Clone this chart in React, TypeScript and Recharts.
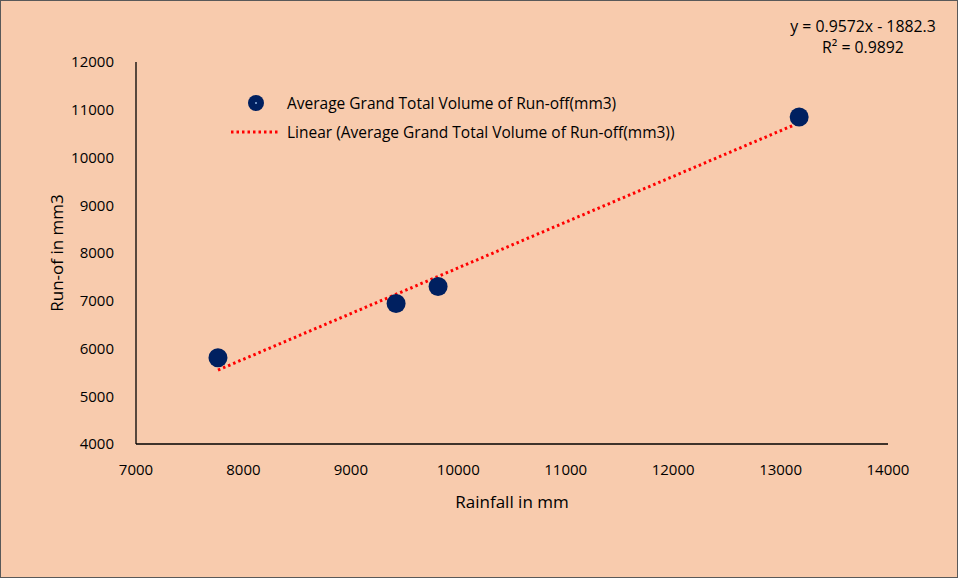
import { Scatter, ScatterChart, XAxis, YAxis } from 'recharts';

const rainfall = [7763, 9421, 9812, 13173];
const runoff = [5807, 6941, 7298, 10849];
const trendX = [7763, 13173];
const trendY = [5548, 10727];
const xTicks = [7000, 8000, 9000, 10000, 11000, 12000, 13000, 14000];
const yTicks = [4000, 5000, 6000, 7000, 8000, 9000, 10000, 11000, 12000];

const seriesName = 'Average Grand Total Volume of Run-off(mm3)';
const trendName = 'Linear (Average Grand Total Volume of Run-off(mm3))';
const equation = 'y = 0.9572x - 1882.3';
const rSquared = 'R² = 0.9892';

const points = rainfall.map((x, i) => ({ x, y: runoff[i] }));
const trend = trendX.map((x, i) => ({ x, y: trendY[i] }));

const font = "'Open Sans', 'Noto Sans', sans-serif";

function LegendBox() {
  return (
    <div
      style={{
        position: 'absolute',
        left: 225,
        top: 87,
        fontSize: 15.5,
        color: '#000',
      }}
    >
      <div style={{ display: 'flex', alignItems: 'center', height: 29 }}>
        <svg width={56} height={20}>
          <circle cx={30} cy={10} r={8} fill='#002060' />
          <circle cx={30} cy={10} r={1} fill='#8fb4e3' />
        </svg>
        <span style={{ marginLeft: 5 }}>{seriesName}</span>
      </div>
      <div style={{ display: 'flex', alignItems: 'center', height: 29 }}>
        <svg width={56} height={20}>
          <line x1={5} y1={10} x2={54} y2={10} stroke='#ff0000' strokeWidth={3} strokeDasharray='2.5 3' />
        </svg>
        <span style={{ marginLeft: 5 }}>{trendName}</span>
      </div>
    </div>
  );
}

export default function App() {
  return (
    <div
      style={{
        position: 'absolute',
        left: 0,
        top: 0,
        width: 958,
        height: 578,
        background: '#F8CBAD',
        boxSizing: 'border-box',
        border: '1px solid #595959',
        fontFamily: font,
      }}
    >
      <div
        style={{
          position: 'absolute',
          left: 782,
          top: 15,
          width: 160,
          textAlign: 'center',
          fontSize: 15.8,
          lineHeight: '21px',
          color: '#000',
        }}
      >
        <div>{equation}</div>
        <div>{rSquared}</div>
      </div>
      <ScatterChart
        width={956}
        height={576}
        margin={{ top: 61, right: 69, bottom: 103, left: 0 }}
      >
        <XAxis
          type='number'
          dataKey='x'
          domain={[7000, 14000]}
          ticks={xTicks}
          tickLine={false}
          axisLine={{ stroke: '#000', strokeWidth: 1.3 }}
          tick={{ fill: '#000', fontSize: 15, fontFamily: font }}
          tickMargin={14}
          height={30}
          label={{ value: 'Rainfall in mm', position: 'insideBottom', offset: -34, fill: '#000', fontSize: 17, fontFamily: font }}
        />
        <YAxis
          type='number'
          dataKey='y'
          domain={[4000, 12000]}
          ticks={yTicks}
          tickLine={false}
          axisLine={{ stroke: '#000', strokeWidth: 1.3 }}
          tick={{ fill: '#000', fontSize: 15, fontFamily: font }}
          tickMargin={16}
          width={135}
          label={{ value: 'Run-of in mm3', angle: -90, position: 'insideLeft', offset: 56, fill: '#000', fontSize: 17, fontFamily: font, style: { textAnchor: 'middle' } }}
        />
        <Scatter
          name={trendName}
          data={trend}
          line={{ stroke: '#ff0000', strokeWidth: 3, strokeDasharray: '2.5 3' }}
          shape={() => null}
          isAnimationActive={false}
        />
        <Scatter
          name={seriesName}
          data={points}
          fill='#002060'
          shape={(p: any) => <circle cx={p.cx} cy={p.cy} r={9.5} fill='#002060' />}
          isAnimationActive={false}
        />
      </ScatterChart>
      <LegendBox />
    </div>
  );
}
